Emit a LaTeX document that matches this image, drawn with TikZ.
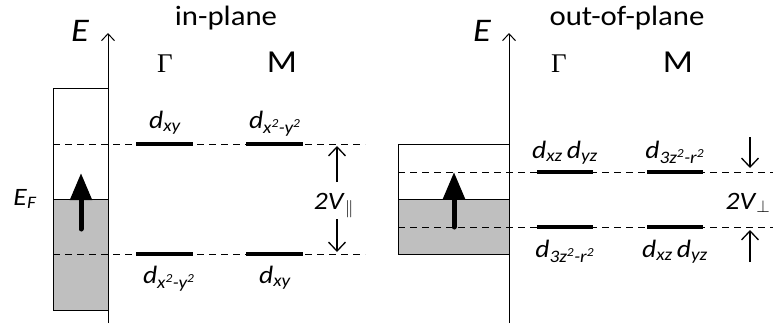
\documentclass[tikz,border=0pt]{standalone}
\usepackage{fontspec}
\setmainfont{Carlito}[FakeStretch=1.1]
\newfontfamily\kfont{Liberation Serif}
\usetikzlibrary{arrows.meta}
\definecolor{bandgray}{RGB}{191,191,191}
\newcommand{\orb}[1]{\textit{d}\textsubscript{\itshape #1}}
\newcommand{\sqr}[1]{#1\textsuperscript{2}}

\begin{document}
\begin{tikzpicture}[x=1pt, y=-1pt,
  level/.style={line width=4pt},
  guide/.style={line width=0.8pt, dash pattern=on 7pt off 5pt},
  band/.style={line width=1pt},
  axis/.style={line width=1pt, -{Straight Barb[length=7pt,width=13pt]}},
  gaparrow/.style={line width=1.3pt, -{Straight Barb[length=9pt,width=17pt]}},
  spin/.style={line width=5pt, line cap=round, -{Triangle[length=27pt,width=21pt]}},
  orbital/.style={anchor=base, font=\fontsize{25}{28}\selectfont},
  kpoint/.style={anchor=base, font=\fontsize{32}{34}\selectfont},
  gammapt/.style={anchor=base, font=\kfont\fontsize{27}{30}\selectfont},
  title/.style={anchor=base, font=\fontsize{28}{30}\selectfont},
  energy/.style={anchor=base, font=\fontsize{33}{35}\selectfont\itshape},
  small/.style={anchor=base, font=\fontsize{25}{28}\selectfont}]
  \useasboundingbox (0,0) rectangle (773,327);

  % in-plane: band box and levels
  \fill[bandgray] (53,199) rectangle (108,310);
  \draw[band] (53,88) rectangle (108,310);
  \draw[band] (53,199) -- (108,199);
  \draw[guide] (53,144) -- (365,144);
  \draw[guide] (53,254) -- (365,254);
  \draw[level] (136,144) -- (193,144);
  \draw[level] (246,144) -- (303,144);
  \draw[level] (136,254) -- (193,254);
  \draw[level] (246,254) -- (303,254);

  \coordinate (axL0) at (108,323);
  \coordinate (axL1) at (108,33);
  \draw[axis] (axL0) -- (axL1);
  \node[energy] (eL) at (80,41) {E};
  \node[title] (inplane) at (226,25) {in-plane};
  \node[gammapt] (gammaL) at (165,72) {Γ};
  \node[kpoint] (mL) at (282,72) {M};
  \node[small] (ef) at (25,205) {\textit{E}\textsubscript{\itshape F}};

  \node[orbital] (gLup) at (165,128) {\orb{xy}};
  \node[orbital] (mLup) at (275,128) {\orb{\sqr{x}-\sqr{y}}};
  \node[orbital] (gLdn) at (169,283) {\orb{\sqr{x}-\sqr{y}}};
  \node[orbital] (mLdn) at (275,283) {\orb{xy}};

  \coordinate (spinL0) at (81,229);
  \coordinate (spinL1) at (81,173);
  \draw[spin] (spinL0) -- (spinL1);

  \node[small] (vpar) at (334,209) {\textit{2V}\textsubscript{$\parallel$}};
  \coordinate (vparT0) at (337,182);
  \coordinate (vparT1) at (337,146);
  \coordinate (vparB0) at (337,219);
  \coordinate (vparB1) at (337,252);
  \draw[gaparrow] (vparT0) -- (vparT1);
  \draw[gaparrow] (vparB0) -- (vparB1);

  % out-of-plane: band box and levels
  \fill[bandgray] (398,199) rectangle (509,254);
  \draw[band] (398,144) rectangle (509,254);
  \draw[band] (398,199) -- (509,199);
  \draw[guide] (398,172) -- (773,172);
  \draw[guide] (398,227) -- (773,227);
  \draw[level] (537,172) -- (593,172);
  \draw[level] (647,172) -- (703,172);
  \draw[level] (537,227) -- (593,227);
  \draw[level] (647,227) -- (703,227);

  \coordinate (axR0) at (509,323);
  \coordinate (axR1) at (509,33);
  \draw[axis] (axR0) -- (axR1);
  \node[energy] (eR) at (482,41) {E};
  \node[title] (outplane) at (627,25) {out-of-plane};
  \node[gammapt] (gammaR) at (559,72) {Γ};
  \node[kpoint] (mR) at (678,72) {M};

  \node[orbital] (gRup) at (565,158) {\orb{xz}\,\orb{yz}};
  \node[orbital] (mRup) at (675,158) {\orb{3\sqr{z}-\sqr{r}}};
  \node[orbital] (gRdn) at (565,257) {\orb{3\sqr{z}-\sqr{r}}};
  \node[orbital] (mRdn) at (675,257) {\orb{xz}\,\orb{yz}};

  \coordinate (spinR0) at (454,227);
  \coordinate (spinR1) at (454,172);
  \draw[spin] (spinR0) -- (spinR1);

  \node[small] (vperp) at (748,209) {\textit{2V}\textsubscript{$\perp$}};
  \coordinate (vperpT0) at (750,137);
  \coordinate (vperpT1) at (750,168);
  \coordinate (vperpB0) at (750,262);
  \coordinate (vperpB1) at (750,230);
  \draw[gaparrow] (vperpT0) -- (vperpT1);
  \draw[gaparrow] (vperpB0) -- (vperpB1);
\end{tikzpicture}
\end{document}
